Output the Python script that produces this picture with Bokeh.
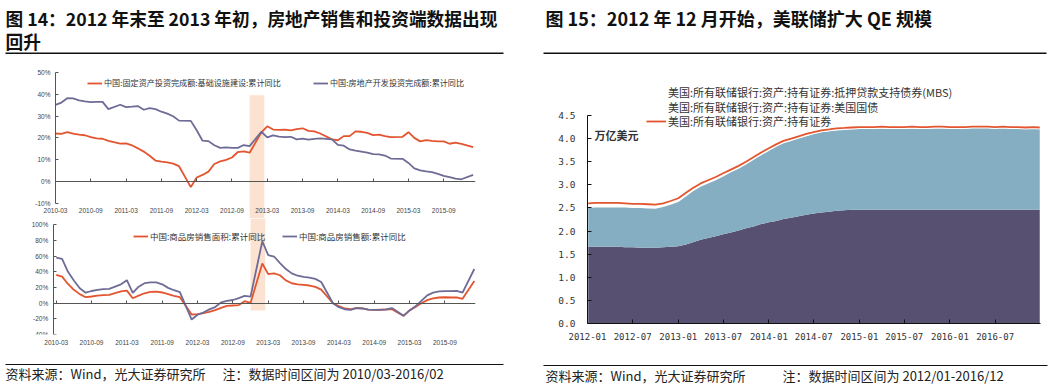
import pandas as pd
import numpy as np
from bokeh.plotting import figure
from bokeh.layouts import row, column
from bokeh.models import (Range1d, FixedTicker, PrintfTickFormatter, BoxAnnotation,
                          Legend, LegendItem, Label, DatetimeTickFormatter, LinearAxis)
from bokeh.embed import file_html
from bokeh.resources import INLINE

CJK = "Noto Sans CJK SC"
RED = "#E2552F"
PURPLE = "#6E6C97"
BAND = "#FCE3D1"
MBS_C = "#85AEC2"
UST_C = "#575071"
AXC = "#555555"

# ---------------- Figure 14 data (monthly cumulative YoY, %, Jan merged into Feb) ----------
months14 = [f"{y}-{m:02d}" for y in range(2010, 2017) for m in range(2, 13)
            if "2010-03" <= f"{y}-{m:02d}" <= "2016-02"]
ticks14 = [f"{y}-{m}" for y in range(2010, 2016) for m in ("03", "09")]
band14 = ("2012-12", "2013-02")

infra_yoy = [22.0, 21.8, 22.6, 21.9, 21.5, 21.2, 20.3, 19.8, 19.6, 18.6,
             17.4, 17.5, 16.6, 15.2, 13.7, 11.8, 9.6, 9.1, 8.8, 8.2, 7.0,
             -2.6, 1.8, 3.0, 4.5, 8.0, 9.2, 9.9, 11.0, 13.5, 13.8, 13.2,
             22.5, 25.3, 23.8, 23.7, 23.8, 23.4, 24.0, 24.4, 23.2, 23.0, 22.0,
             19.3, 18.9, 20.8, 20.8, 23.0, 22.8, 22.3, 21.3, 21.5, 20.8, 20.3,
             20.5, 22.6, 20.0, 18.4, 19.0, 18.6, 18.4, 18.4, 17.3, 17.8, 17.2,
             15.7]
realestate_yoy = [35.1, 36.2, 38.2, 38.1, 37.2, 36.7, 36.4, 36.5, 36.5, 33.2,
                  35.2, 34.1, 34.3, 34.6, 32.9, 33.6, 33.2, 32.0, 31.1, 29.9, 27.9,
                  27.8, 23.5, 18.7, 18.5, 16.6, 15.4, 15.6, 15.4, 15.4, 16.7, 16.2,
                  22.8, 20.2, 21.1, 20.6, 20.3, 20.5, 19.3, 19.7, 19.2, 19.5, 19.8,
                  19.3, 16.8, 16.4, 14.7, 14.1, 13.7, 13.2, 12.5, 12.4, 11.9, 10.5,
                  10.4, 8.5, 6.0, 5.1, 4.6, 4.3, 3.5, 2.6, 2.0, 1.3, 1.0,
                  3.0]
sales_area_yoy = [36.0, 33.8, 24.5, 17.0, 11.5, 7.6, 8.5, 9.5, 10.2, 10.5,
                  14.9, 16.0, 6.3, 9.5, 12.6, 14.3, 14.8, 13.6, 11.5, 9.3, 7.6,
                  -14.5, -14.0, -12.8, -11.0, -9.0, -6.0, -3.5, -3.0, -2.5, 2.5, 0.3,
                  50.6, 37.1, 38.0, 35.6, 29.0, 25.4, 24.0, 23.3, 22.5, 20.8, 17.3,
                  -0.1, -3.8, -6.8, -7.8, -6.0, -6.6, -8.3, -8.6, -8.4, -8.2, -7.6,
                  -16.3, -9.2, -4.8, -0.2, 3.9, 6.1, 7.2, 7.5, 7.2, 7.4, 5.5,
                  28.2]
sales_amount_yoy = [58.2, 56.5, 40.0, 29.0, 19.0, 13.3, 15.5, 17.0, 18.0, 18.3,
                    24.0, 29.3, 13.0, 21.0, 25.5, 26.4, 26.4, 24.0, 19.5, 16.5, 14.0,
                    -20.9, -14.8, -12.0, -8.0, -5.0, 1.0, 3.0, 4.0, 6.5, 9.3, 8.4,
                    79.0, 61.2, 59.5, 51.0, 43.5, 38.0, 35.0, 33.5, 32.5, 31.0, 27.0,
                    -0.1, -5.2, -7.8, -8.5, -6.5, -6.8, -8.2, -8.5, -8.6, -8.0, -6.3,
                    -16.0, -9.3, -4.0, 3.0, 10.0, 13.4, 15.0, 15.3, 15.4, 15.6, 13.5,
                    43.6]

name_infra = "中国:固定资产投资完成额:基础设施建设:累计同比"
name_re = "中国:房地产开发投资完成额:累计同比"
name_area = "中国:商品房销售面积:累计同比"
name_amount = "中国:商品房销售额:累计同比"

# ---------------- Figure 15 data (trillion USD) ----------------
fed_dates = (["2012-01-04"] +
             [f"{y}-{m:02d}-01" for y in range(2012, 2017) for m in range(1, 13)][1:] +
             ["2016-12-28"])
fed_ust = [1.66, 1.66, 1.66, 1.66, 1.66, 1.65, 1.65, 1.64, 1.64, 1.64, 1.65, 1.66,
           1.67, 1.71, 1.76, 1.81, 1.85, 1.89, 1.93, 1.97, 2.01, 2.06, 2.10, 2.15,
           2.19, 2.22, 2.26, 2.29, 2.32, 2.35, 2.38, 2.40, 2.42, 2.44, 2.45, 2.46,
           2.46, 2.46, 2.46, 2.46, 2.46, 2.46, 2.46, 2.46, 2.46, 2.46, 2.46, 2.46,
           2.46, 2.46, 2.46, 2.46, 2.46, 2.46, 2.46, 2.46, 2.46, 2.46, 2.46, 2.46,
           2.46]
fed_mbs = [0.84, 0.85, 0.85, 0.85, 0.85, 0.86, 0.85, 0.86, 0.85, 0.84, 0.87, 0.91,
           0.96, 1.04, 1.10, 1.15, 1.18, 1.21, 1.25, 1.30, 1.34, 1.38, 1.44, 1.49,
           1.54, 1.61, 1.64, 1.66, 1.68, 1.70, 1.72, 1.74, 1.74, 1.74, 1.74, 1.74,
           1.75, 1.75, 1.75, 1.76, 1.75, 1.75, 1.75, 1.76, 1.75, 1.75, 1.76, 1.76,
           1.76, 1.76, 1.76, 1.77, 1.77, 1.77, 1.76, 1.77, 1.76, 1.76, 1.75, 1.76,
           1.75]
fed_total = [2.60, 2.61, 2.61, 2.61, 2.61, 2.60, 2.59, 2.59, 2.58, 2.57, 2.60, 2.65,
             2.71, 2.83, 2.93, 3.03, 3.10, 3.17, 3.25, 3.33, 3.41, 3.50, 3.60, 3.70,
             3.79, 3.88, 3.95, 4.00, 4.05, 4.10, 4.14, 4.18, 4.20, 4.22, 4.23, 4.24,
             4.25, 4.25, 4.25, 4.26, 4.25, 4.25, 4.25, 4.26, 4.25, 4.25, 4.26, 4.26,
             4.25, 4.25, 4.25, 4.26, 4.26, 4.26, 4.25, 4.26, 4.25, 4.25, 4.24, 4.25,
             4.24]
ticks15 = [f"{y}-{m}-01" for y in range(2012, 2017) for m in ("01", "07")]
name_mbs = "美国:所有联储银行:资产:持有证券:抵押贷款支持债券(MBS)"
name_ust = "美国:所有联储银行:资产:持有证券:美国国债"
name_total = "美国:所有联储银行:资产:持有证券"

# ---------------- helpers ----------------
def midx(s):
    y, m = s.split("-")[:2]
    return (int(y) - 2010) * 12 + int(m) - 3

x14 = [midx(s) for s in months14]
tpos14 = [midx(s) for s in ticks14]


def blank(p):
    p.outline_line_color = None
    p.background_fill_color = "white"
    p.border_fill_color = "white"


def style_left(p, ybounds, xbounds, yloc):
    blank(p)
    p.grid.grid_line_color = None
    ya = p.yaxis[0]
    ya.fixed_location = yloc
    ya.bounds = ybounds
    ya.axis_line_color = AXC
    ya.major_tick_line_color = AXC
    ya.major_tick_in = 3
    ya.major_tick_out = 0
    ya.minor_tick_line_color = None
    ya.major_label_text_font = "Liberation Sans"
    ya.major_label_text_font_size = "6.5px"
    ya.major_label_text_color = "#444444"
    ya.major_label_standoff = 5
    ya.formatter = PrintfTickFormatter(format="%d%%")
    xa = p.xaxis[0]
    xa.axis_line_color = None
    xa.major_tick_line_color = None
    xa.major_tick_in = 0
    xa.major_tick_out = 0
    xa.minor_tick_line_color = None
    xa.ticker = FixedTicker(ticks=tpos14)
    xa.major_label_overrides = {t: s for t, s in zip(tpos14, ticks14)}
    xa.major_label_text_font = "Liberation Sans"
    xa.major_label_text_font_size = "6.5px"
    xa.major_label_text_color = "#444444"
    xa.major_label_standoff = 5
    # zero line with small upward ticks
    zax = LinearAxis(fixed_location=0, bounds=xbounds, ticker=FixedTicker(ticks=tpos14),
                     major_label_overrides={t: "" for t in tpos14},
                     axis_line_color=AXC, major_tick_line_color=AXC,
                     major_tick_in=3, major_tick_out=0, minor_tick_line_color=None)
    p.add_layout(zax, "below")


def one_legend(p, r, label, loc, size="8.5px", gw=15, gh=10):
    lg = Legend(items=[LegendItem(label=label, renderers=[r])], location=loc,
                orientation="horizontal", glyph_width=gw, glyph_height=gh,
                label_height=gh, label_standoff=2, padding=0, margin=0, spacing=0,
                border_line_color=None, background_fill_alpha=0,
                label_text_font=CJK, label_text_font_size=size,
                label_text_color="#333333")
    p.add_layout(lg)


W = 1053
# ---------------- header ----------------
hdr = figure(width=W, height=60, x_range=Range1d(0, W), y_range=Range1d(60, 0),
             x_axis_type=None, y_axis_type=None, min_border=0,
             output_backend="svg", toolbar_location=None)
blank(hdr)
for txt, x, y, fs in [("图 14：2012 年末至 2013 年初，房地产销售和投资端数据出现", 5, 17, "17.7px"),
                      ("回升", 5, 40, "17.7px"),
                      ("图 15：2012 年 12 月开始，美联储扩大 QE 规模", 545, 17, "18px")]:
    hdr.add_layout(Label(x=x, y=y, text=txt, text_font=CJK, text_font_style="bold",
                         text_font_size=fs, text_color="#111111",
                         text_baseline="middle", text_align="left"))
hdr.segment(x0=[5, 543], y0=[52.7, 52.7], x1=[503, 1046], y1=[52.7, 52.7],
            line_color="#111111", line_width=1.5)

# ---------------- chart 1 (frame fills the figure; axes at fixed locations) ----------------
p1 = figure(width=538, height=158, x_range=Range1d(-9.35, 71.4), y_range=Range1d(-17.0, 55.5),
            min_border_left=0, min_border_right=63, min_border_top=0, min_border_bottom=0,
            output_backend="svg", toolbar_location=None)
style_left(p1, (-10, 50), (0, 71.4), 0)
p1.xaxis[0].fixed_location = -10
p1.yaxis.ticker = FixedTicker(ticks=list(range(-10, 51, 10)))
p1.add_layout(BoxAnnotation(left=midx(band14[0]), right=midx(band14[1]) + 0.5,
                            top=39.5, fill_color=BAND, fill_alpha=1,
                            line_color=None, level="underlay"))
r1a = p1.line(x14, infra_yoy, line_color=RED, line_width=1.8)
r1b = p1.line(x14, realestate_yoy, line_color=PURPLE, line_width=1.8)
one_legend(p1, r1a, name_infra, (87, 130), size="8.1px")
one_legend(p1, r1b, name_re, (313, 130), size="8.1px")

# ---------------- chart 2 ----------------
p2 = figure(width=538, height=134, x_range=Range1d(-9.46, 71.2), y_range=Range1d(-40, 108.0),
            min_border_left=0, min_border_right=63, min_border_top=0, min_border_bottom=18,
            output_backend="svg", toolbar_location=None)
style_left(p2, (-40, 100), (-0.5, 71.2), -0.5)
p2.yaxis.ticker = FixedTicker(ticks=list(range(-40, 101, 20)))
p2.add_layout(BoxAnnotation(left=midx(band14[0]), right=midx(band14[1]) + 0.5,
                            bottom=-9.5, fill_color=BAND, fill_alpha=1,
                            line_color=None, level="underlay"))
r2a = p2.line(x14, sales_area_yoy, line_color=RED, line_width=1.8)
r2b = p2.line(x14, sales_amount_yoy, line_color=PURPLE, line_width=1.8)
one_legend(p2, r2a, name_area, (133, 92))
one_legend(p2, r2b, name_amount, (282, 92))

# ---------------- chart 3 ----------------
fd = pd.to_datetime(fed_dates)
ust = np.array(fed_ust)
mbs_top = ust + np.array(fed_mbs)
p3 = figure(width=W - 538, height=292, x_axis_type="datetime",
            x_range=Range1d(pd.Timestamp("2012-01-01"), pd.Timestamp("2016-12-31")),
            y_range=Range1d(0, 5.257),
            min_border_left=49, min_border_right=13, min_border_top=20, min_border_bottom=29,
            output_backend="svg", toolbar_location=None)
blank(p3)
p3.grid.grid_line_color = None
p3.varea(x=fd, y1=0, y2=ust, fill_color=UST_C)
p3.varea(x=fd, y1=ust, y2=mbs_top, fill_color=MBS_C)
p3.line(fd, fed_total, line_color="white", line_width=4)
r3t = p3.line(fd, fed_total, line_color=RED, line_width=1.8)
# legend proxies
px_m = p3.line(x=[], y=[], line_color=MBS_C, line_width=5)
px_u = p3.line(x=[], y=[], line_color=UST_C, line_width=5)
for r, lab, y in [(px_m, name_mbs, 223), (px_u, name_ust, 208.3), (r3t, name_total, 194.5)]:
    one_legend(p3, r, lab, (59, y), size="11px", gw=20, gh=12)
p3.add_layout(Label(x=pd.Timestamp("2012-01-29").timestamp() * 1000, y=4.08, text="万亿美元",
                    text_font=CJK, text_font_style="bold", text_font_size="11px",
                    text_color="#333333", text_baseline="middle"))
ya = p3.yaxis[0]
ya.ticker = FixedTicker(ticks=[i * 0.5 for i in range(10)])
ya.formatter = PrintfTickFormatter(format="%.1f")
ya.bounds = (0, 4.5)
xa = p3.xaxis[0]
xa.ticker = FixedTicker(ticks=[pd.Timestamp(t).timestamp() * 1000 for t in ticks15])
fmt = "%Y-%m"
xa.formatter = DatetimeTickFormatter(years=fmt, months=fmt, days=fmt, hours=fmt,
                                     minutes=fmt, seconds=fmt, milliseconds=fmt,
                                     microseconds=fmt)
for a in (xa, ya):
    a.axis_line_color = "#111111"
    a.major_tick_line_color = "#111111"
    a.major_tick_in = 4
    a.major_tick_out = 0
    a.minor_tick_line_color = None
    a.major_label_text_font = "DejaVu Sans Mono"
    a.major_label_text_font_size = "9px"
    a.major_label_text_color = "#333333"
ya.major_label_standoff = 12
ya.major_label_text_font_size = "9.5px"
xa.major_label_standoff = 9

# ---------------- footer ----------------
ftr = figure(width=W, height=33, x_range=Range1d(0, W), y_range=Range1d(385, 352),
             x_axis_type=None, y_axis_type=None, min_border=0,
             output_backend="svg", toolbar_location=None)
blank(ftr)
ftr.segment(x0=[5, 543], y0=[364, 365], x1=[503, 1047], y1=[364, 365],
            line_color="#111111", line_width=1.2)
for txt, x, y in [("资料来源：Wind，光大证券研究所", 5, 373),
                  ("注：数据时间区间为 2010/03-2016/02", 222, 373),
                  ("资料来源：Wind，光大证券研究所", 545, 375),
                  ("注：数据时间区间为 2012/01-2016/12", 782, 375)]:
    ftr.add_layout(Label(x=x, y=y, text=txt, text_font=CJK, text_font_size="13px",
                         text_color="#222222", text_baseline="middle"))

layout = column(hdr, row(column(p1, p2), p3), ftr)
open("out.html", "w").write(file_html(layout, INLINE))
